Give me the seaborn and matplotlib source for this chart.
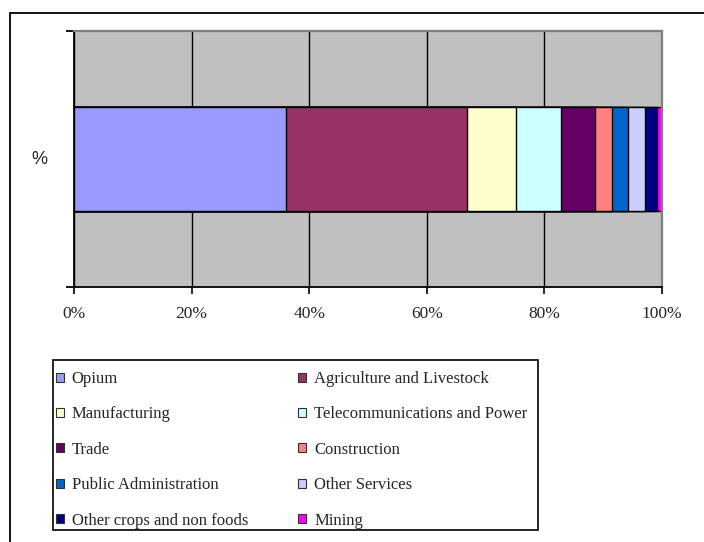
import matplotlib
matplotlib.use('Agg')
import matplotlib.pyplot as plt
from matplotlib.patches import Patch, Rectangle
import numpy as np
import pandas as pd
import seaborn as sns

# Data (share of total, %)
sectors = ['Opium', 'Agriculture and Livestock', 'Manufacturing',
           'Telecommunications and Power', 'Trade', 'Construction',
           'Public Administration', 'Other Services',
           'Other crops and non foods', 'Mining']
shares = [36.1, 30.7, 8.3, 7.7, 5.8, 2.9, 2.7, 2.9, 2.0, 0.9]
colors = ['#9999FF', '#993366', '#FFFFCC', '#CCFFFF', '#660066',
          '#FF8080', '#0066CC', '#CCCCFF', '#000080', '#FF00FF']
xticks = [0, 20, 40, 60, 80, 100]
xtick_labels = ['0%', '20%', '40%', '60%', '80%', '100%']

sns.set_style('white')
plt.rcParams['font.family'] = ['Liberation Serif', 'DejaVu Serif']

fig = plt.figure(figsize=(7.04, 5.42), dpi=100)
ax = fig.add_axes([74 / 704, 1 - 287 / 542, 588 / 704, 256 / 542])
ax.set_facecolor('#C0C0C0')

# Stacked bar: draw cumulative totals from the largest down
df = pd.DataFrame({'sector': sectors, 'share': shares,
                   'cum': np.cumsum(shares), 'row': '%'})
for i in reversed(range(len(sectors))):
    sns.barplot(data=df.iloc[[i]], x='cum', y='row', color=colors[i],
                saturation=1, edgecolor='black', linewidth=1.0,
                width=0.406, ax=ax)

ax.set_xlim(0, 100)
ax.set_ylim(0.5, -0.5)
ax.set_xticks(xticks)
ax.set_xticklabels(xtick_labels)
ax.set_yticks([-0.5, 0.5])
ax.set_yticklabels(['', ''])
ax.set_xlabel('')
ax.set_ylabel('')

ax.set_axisbelow(True)
ax.xaxis.grid(True, color='black', linewidth=1.0)
ax.yaxis.grid(False)

for side in ['left', 'bottom']:
    ax.spines[side].set_color('black')
    ax.spines[side].set_linewidth(1.3)
for side in ['top', 'right']:
    ax.spines[side].set_color('#808080')
    ax.spines[side].set_linewidth(1.6)

ax.tick_params(axis='x', bottom=True, direction='out', length=5, width=1.2,
               color='black', pad=9, labelsize=12.5)
ax.tick_params(axis='y', left=True, direction='out', length=6, width=1.3,
               color='black', labelleft=False)

fig.text(39 / 704, 1 - 160 / 542, '%', family='Liberation Sans', fontsize=13,
         ha='center', va='center')

# outer chart frame
fig.add_artist(Rectangle((10 / 704, -0.05), 1.0, 1 - 13 / 542 + 0.05,
                         transform=fig.transFigure, fill=False,
                         edgecolor='black', linewidth=1.3))

# legend (row-major order as in the reference)
order = [0, 2, 4, 6, 8, 1, 3, 5, 7, 9]
handles = [Patch(facecolor=colors[i], edgecolor='#333333', linewidth=0.8) for i in order]
labels = [sectors[i] for i in order]
fig.legend(handles, labels, ncol=2, loc='upper left',
           bbox_to_anchor=(56 / 704, 1 - 371 / 542), frameon=False,
           fontsize=12, handlelength=0.45, handleheight=0.45,
           handletextpad=0.5, columnspacing=3.0, labelspacing=1.165,
           borderpad=0, borderaxespad=0)
fig.add_artist(Rectangle((53 / 704, 1 - 530 / 542), 485 / 704, 170 / 542,
                         transform=fig.transFigure, fill=False,
                         edgecolor='black', linewidth=1.2))

fig.savefig('out.png', dpi=100)
